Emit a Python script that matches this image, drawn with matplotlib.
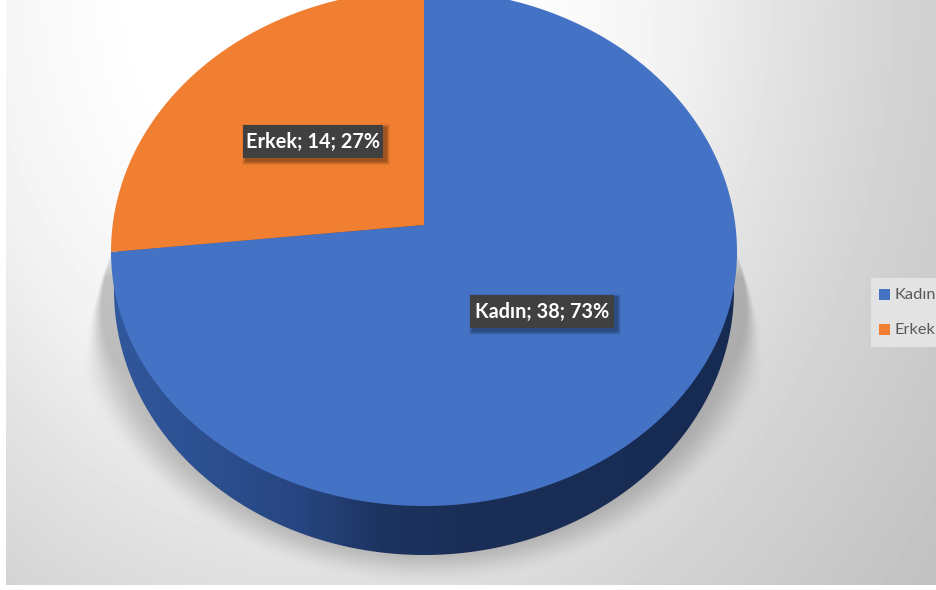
import numpy as np
import matplotlib
matplotlib.use("Agg")
import matplotlib.pyplot as plt
from matplotlib.patches import Polygon, Rectangle
from matplotlib.colors import LinearSegmentedColormap

# Chart data
categories = ["Kadın", "Erkek"]
counts = [38, 14]
percents = [73, 27]
slice_colors = ["#4472C4", "#F07F31"]

W, H = 936, 590
APEX = (424.0, 225.0)
TILT = 0.728

fig = plt.figure(figsize=(W / 100, H / 100), dpi=100, facecolor="white")
ax = fig.add_axes([0, 0, 1, 1])

# Panel background: soft radial gradient with a blurred drop shadow under the pie
PANEL_R, PANEL_B = W, 585
px, py = np.meshgrid(np.arange(6, PANEL_R) + 0.5, np.arange(0, PANEL_B) + 0.5)
dist = np.hypot(px - 320, (py + 20) * 0.8)
panel = np.interp(dist, [0, 200, 350, 480, 600, 700, 850],
                  [255, 254, 243, 224, 209, 200, 186])

taper = np.clip((py - 250) / 130, 0, 1)
shadow_rx = 316 + 44 * taper ** 1.2
norm = np.hypot((px - 424) / shadow_rx, (py - 290) / 296)
edge = 0.008 + 0.13 * taper ** 2
fade = np.clip((1 - norm) / edge, 0, 1)
fade = fade * fade * (3 - 2 * fade)
fade = fade * np.clip((py - 248) / 30, 0, 1)
panel = panel * (1 - 0.22 * fade)

ax.imshow(panel, cmap="gray", vmin=0, vmax=255, interpolation="bilinear",
          extent=(6, PANEL_R, PANEL_B, 0), zorder=1)


def rim(theta, cx, rx, cy, ry_up, ry_down):
    """Points of the pie outline; theta runs clockwise from twelve o'clock."""
    c = np.cos(theta)
    return cx + rx * np.sin(theta), cy - np.where(c > 0, ry_up, ry_down) * c


# Pie wall, shaded from left to right
wall_t = np.linspace(0, 2 * np.pi, 721)
wall_x, wall_y = rim(wall_t, 424, 310, 290, 265, 265)
wall_patch = Polygon(np.column_stack([wall_x, wall_y]), closed=True,
                     facecolor="none", edgecolor="none", zorder=2)
ax.add_patch(wall_patch)
wall_cmap = LinearSegmentedColormap.from_list(
    "wall",
    [(0.0, "#31589C"), (0.14, "#2D5091"), (0.30, "#274580"),
     (0.43, "#1D3461"), (0.55, "#1A2E57"), (1.0, "#172B52")],
)
wall_img = ax.imshow(np.linspace(0, 1, 300)[None, :], cmap=wall_cmap,
                     extent=(114, 734, 560, 25), aspect="auto", zorder=2)
wall_img.set_clip_path(wall_patch)

# Top face: each slice edge is found from its share of the total
t = np.linspace(0, 2 * np.pi, 1441)
rim_x, rim_y = rim(t, 424, 313, 252, 262, 254)
apparent = np.arctan2(rim_x - APEX[0], -(rim_y - APEX[1]) / TILT) % (2 * np.pi)
apparent[-1] = 2 * np.pi
share = counts[0] / sum(counts)
split = int(np.searchsorted(apparent, share * 2 * np.pi))

ax.add_patch(Polygon(np.vstack([APEX, np.column_stack([rim_x[:split + 1], rim_y[:split + 1]])]),
                     closed=True, facecolor=slice_colors[0], edgecolor="none", zorder=3))
ax.add_patch(Polygon(np.vstack([APEX, np.column_stack([rim_x[split:], rim_y[split:]])]),
                     closed=True, facecolor=slice_colors[1], edgecolor="none", zorder=3))

# Data labels on dark boxes with a soft offset shadow
label_boxes = {"Kadın": (470, 295, 144, 33), "Erkek": (243, 125, 140, 33)}
for name, n, pct in zip(categories, counts, percents):
    x0, y0, w, h = label_boxes[name]
    for grow, alpha in [(4, 0.06), (3, 0.08), (2, 0.10), (1, 0.14)]:
        ax.add_patch(Rectangle((x0 + 3 - grow, y0 + 3 - grow), w + 2 * grow, h + 2 * grow,
                               facecolor="black", alpha=alpha, edgecolor="none", zorder=4))
    ax.add_patch(Rectangle((x0, y0), w, h, facecolor="#404040", edgecolor="none", zorder=5))
    ax.text(x0 + w / 2, y0 + h / 2 + 0.5, f"{name}; {n}; {pct}%", color="white",
            family="Lato", weight="bold", fontsize=14.3, ha="center", va="center", zorder=6)

# Legend at the right edge of the panel
ax.add_patch(Rectangle((871, 278), 70, 69, facecolor="#E3E3E3", edgecolor="none", zorder=4))
for name, color, yc in zip(categories, slice_colors, [294.5, 329]):
    ax.add_patch(Rectangle((879, yc - 5.5), 11, 11, facecolor=color, edgecolor="none", zorder=5))
    ax.text(894, yc + 0.5, name, color="#595959", family="Lato", fontsize=11.8,
            ha="left", va="center", zorder=5)

ax.set_xlim(0, W)
ax.set_ylim(H, 0)
ax.set_aspect("auto")
ax.axis("off")
fig.savefig("out.png", dpi=100, facecolor="white")
